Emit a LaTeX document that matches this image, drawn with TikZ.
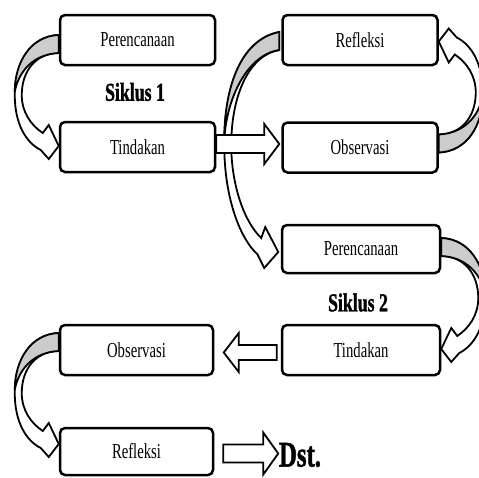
\documentclass[tikz,border=0pt]{standalone}
\usepackage{fontspec}
\usepackage{graphicx}
\setmainfont{Liberation Serif}
\newfontface\heavyfont{Liberation Serif Bold}[FakeBold=1.5]
\pgfdeclarelayer{bg}
\pgfsetlayers{bg,main}
\tikzset{
  stagebox/.style={draw, line width=2.5pt, rounded corners=5pt, minimum width=155pt,
    minimum height=50pt, inner sep=0pt, fill=white},
  blockarrow/.style={draw, line width=1.8pt, fill=white, line join=miter},
  backface/.style={draw, line width=1.8pt, fill=gray!40, line join=miter},
}
\newcommand\stagelbl[1]{\fontsize{14.7}{16}\selectfont\scalebox{1}[1.45]{#1}}
\newcommand\heavylbl[2]{\fontsize{#1}{#1}\heavyfont\scalebox{1}[1.45]{#2}}
\newcommand\bendarrow{%
  \draw[blockarrow] (0,-5) .. controls (-28,-4) and (-44,22) .. (-44,55)
    .. controls (-44,85) and (-32,103) .. (-18,110) -- (-10,119) -- (0,106)
    -- (-10,85) -- (-16,93) .. controls (-28,85) and (-37,72) .. (-37,55)
    .. controls (-37,30) and (-22,13) .. (0,13) -- cycle;
  \draw[backface] (0,-5) .. controls (-28,-4) and (-44,22) .. (-44,52)
    .. controls (-40,30) and (-24,14) .. (0,13) -- cycle;
}
\begin{document}
\begin{tikzpicture}[x=1pt,y=-1pt]
\useasboundingbox (0,0) rectangle (479,477);
% stage boxes
\node[stagebox] (p1) at (137.5,40) {\stagelbl{Perencanaan}};
\node[stagebox] (t1) at (137.5,147) {\stagelbl{Tindakan}};
\node[stagebox] (r1) at (360,40) {\stagelbl{Refleksi}};
\node[stagebox] (o1) at (360,147.5) {\stagelbl{Observasi}};
\node[stagebox, minimum width=158pt, minimum height=48pt] (p2) at (361,249) {\stagelbl{Perencanaan}};
\node[stagebox, minimum width=158pt] (t2) at (361,350) {\stagelbl{Tindakan}};
\node[stagebox, minimum width=153pt] (o2) at (136.5,350) {\stagelbl{Observasi}};
\node[stagebox, minimum width=153pt, minimum height=47pt] (r2) at (136.5,451.5) {\stagelbl{Refleksi}};
% cycle labels
\node (s1) at (135,92) {\heavylbl{17.8}{Siklus 1}};
\node (s2) at (358,302.5) {\heavylbl{17.8}{Siklus 2}};
\node (dst) at (300,455) {\heavylbl{24.8}{Dst.}};
\begin{pgfonlayer}{bg}
% cycle 1
\begin{scope}[shift={(p1.west)}]\bendarrow\end{scope}
\begin{scope}[shift={(o1.east)}, rotate=180]\bendarrow\end{scope}
% big arrow Refleksi -> Perencanaan 2
\begin{scope}[shift={(r1.west)}]
  \draw[blockarrow] (-2,-8) .. controls (-42,0) and (-57,50) .. (-57,105)
    .. controls (-57,160) and (-40,200) .. (-24,214) -- (-17,228) -- (-3,212)
    -- (-16,187) -- (-20,198) .. controls (-37,182) and (-50,145) .. (-50,105)
    .. controls (-50,55) and (-32,15) .. (-2,10) -- cycle;
  \draw[backface] (-2,-8) .. controls (-42,0) and (-57,50) .. (-57,100)
    .. controls (-55,60) and (-35,15) .. (-2,10) -- cycle;
\end{scope}
% straight arrow Tindakan -> Observasi
\begin{scope}[shift={(t1.east)}]
  \draw[blockarrow] (0,-12) -- (48,-12) -- (48,-23) -- (63,-3) -- (48,17)
    -- (48,6) -- (0,6) -- cycle;
\end{scope}
% cycle 2
\begin{scope}[shift={(p2.east)}, yshift=6pt, xscale=-1]\bendarrow\end{scope}
\begin{scope}[shift={(t2.west)}]
  \draw[blockarrow] (-4,-5) -- (-42,-5) -- (-42,-17) -- (-57,2.5) -- (-42,22)
    -- (-42,10) -- (-4,10) -- cycle;
\end{scope}
\begin{scope}[shift={(o2.west)}, yshift=12pt]\bendarrow\end{scope}
\begin{scope}[shift={(r2.east)}]
  \draw[blockarrow] (9,-7) -- (49,-7) -- (49,-19) -- (64,2) -- (49,23)
    -- (49,11) -- (9,11) -- cycle;
\end{scope}
\end{pgfonlayer}
\end{tikzpicture}
\end{document}
